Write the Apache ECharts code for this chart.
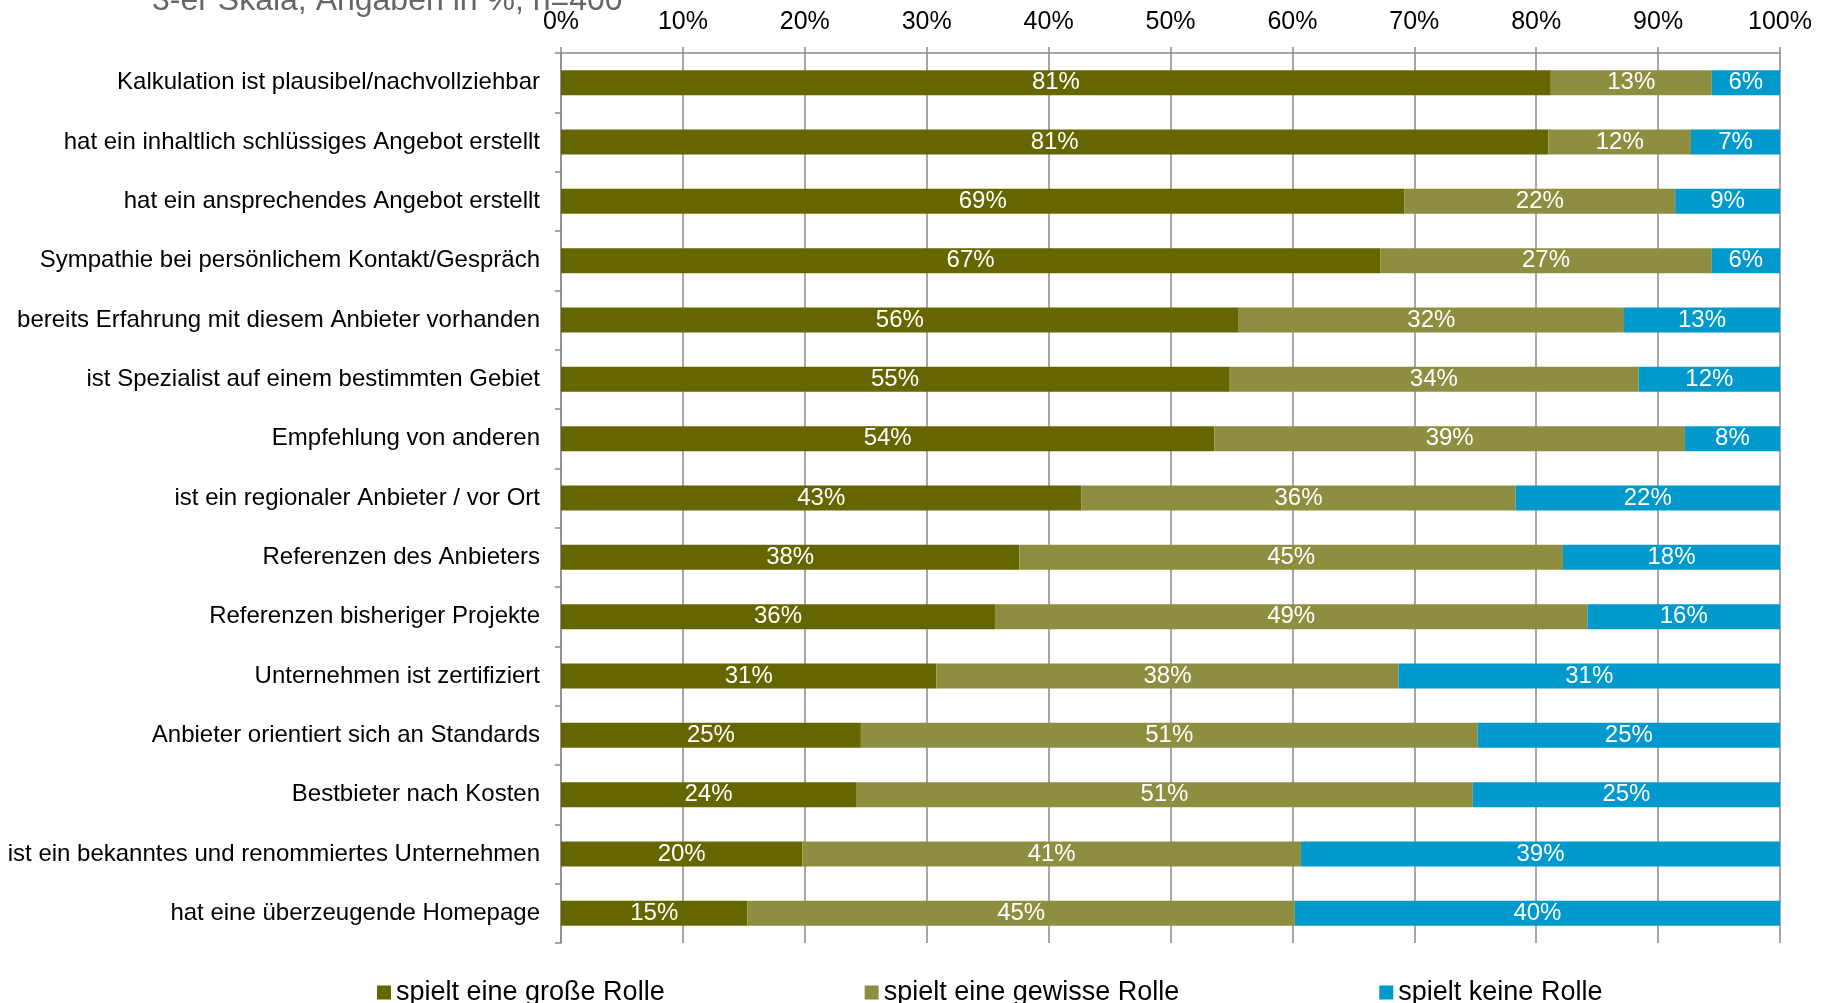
<!DOCTYPE html>
<html>
<head>
<meta charset="utf-8">
<script src="https://cdn.jsdelivr.net/npm/echarts@6/dist/echarts.min.js"></script>
<style>
  html, body { margin: 0; padding: 0; background: #ffffff; }
  #chart { width: 1833px; height: 1003px; }
</style>
</head>
<body>
<div id="chart"></div>
<script>
// Kriterien (von oben nach unten)
const categories = [
  'Kalkulation ist plausibel/nachvollziehbar',
  'hat ein inhaltlich schlüssiges Angebot erstellt',
  'hat ein ansprechendes Angebot erstellt',
  'Sympathie bei persönlichem Kontakt/Gespräch',
  'bereits Erfahrung mit diesem Anbieter vorhanden',
  'ist Spezialist auf einem bestimmten Gebiet',
  'Empfehlung von anderen',
  'ist ein regionaler Anbieter / vor Ort',
  'Referenzen des Anbieters',
  'Referenzen bisheriger Projekte',
  'Unternehmen ist zertifiziert',
  'Anbieter orientiert sich an Standards',
  'Bestbieter nach Kosten',
  'ist ein bekanntes und renommiertes Unternehmen',
  'hat eine überzeugende Homepage'
];

const seriesNames = ['spielt eine große Rolle', 'spielt eine gewisse Rolle', 'spielt keine Rolle'];

// Anteile in %
const grosseRolle  = [81.2, 81.0, 69.2, 67.2, 55.6, 54.8, 53.6, 42.7, 37.6, 35.6, 30.8, 24.6, 24.2, 19.8, 15.3];
const gewisseRolle = [13.2, 11.7, 22.2, 27.2, 31.6, 33.6, 38.6, 35.6, 44.6, 48.6, 37.9, 50.6, 50.6, 40.9, 44.9];
const keineRolle   = [ 5.6,  7.3,  8.6,  5.6, 12.8, 11.6,  7.8, 21.7, 17.8, 15.8, 31.3, 24.8, 25.2, 39.3, 39.8];

const xTicks = { min: 0, max: 100, interval: 10 };

const colors = ['#666600', '#8e8e40', '#0099cc'];
const FONT = '"Liberation Sans", Arial, sans-serif';
const GRID_GRAY = '#8a8a8a';

const chart = echarts.init(document.getElementById('chart'), null, { renderer: 'canvas' });

function barSeries(name, data, color) {
  return {
    name: name,
    type: 'bar',
    stack: 'gesamt',
    data: data,
    barWidth: 25,
    itemStyle: { color: color },
    label: {
      show: true,
      position: 'inside',
      color: '#ffffff',
      fontFamily: FONT,
      fontSize: 24,
      formatter: p => Math.round(p.value) + '%'
    },
    emphasis: { disabled: true }
  };
}

chart.setOption({
  animation: false,
  backgroundColor: '#ffffff',
  color: colors,
  textStyle: { fontFamily: FONT },
  title: {
    text: '3-er Skala, Angaben in %, n=400',
    left: 147,
    top: -20,
    textStyle: { fontFamily: FONT, fontSize: 32, fontWeight: 'normal', color: '#666666' }
  },
  legend: {
    data: seriesNames,
    left: 372,
    top: 974,
    icon: 'rect',
    itemWidth: 14,
    itemHeight: 14,
    itemGap: 200,
    textStyle: { fontFamily: FONT, fontSize: 27, color: '#000000' }
  },
  grid: { left: 561, right: 53, top: 53, bottom: 60, containLabel: false },
  xAxis: {
    type: 'value',
    position: 'top',
    min: xTicks.min,
    max: xTicks.max,
    interval: xTicks.interval,
    axisLine: { show: true, lineStyle: { color: GRID_GRAY, width: 1.5 } },
    axisTick: { show: true, length: 6, lineStyle: { color: GRID_GRAY, width: 1.5 } },
    axisLabel: {
      formatter: '{value}%',
      fontFamily: FONT,
      fontSize: 25,
      color: '#000000',
      margin: 18
    },
    splitLine: { show: true, lineStyle: { color: GRID_GRAY, width: 1.5 } }
  },
  yAxis: {
    type: 'category',
    inverse: true,
    data: categories,
    axisLine: { show: true, lineStyle: { color: GRID_GRAY, width: 1.5 } },
    axisTick: { show: true, length: 6, lineStyle: { color: GRID_GRAY, width: 1.5 } },
    axisLabel: {
      interval: 0,
      fontFamily: FONT,
      fontSize: 24,
      color: '#000000',
      margin: 21
    },
    splitLine: { show: false }
  },
  series: [
    barSeries(seriesNames[0], grosseRolle, colors[0]),
    barSeries(seriesNames[1], gewisseRolle, colors[1]),
    barSeries(seriesNames[2], keineRolle, colors[2])
  ]
});
</script>
</body>
</html>
